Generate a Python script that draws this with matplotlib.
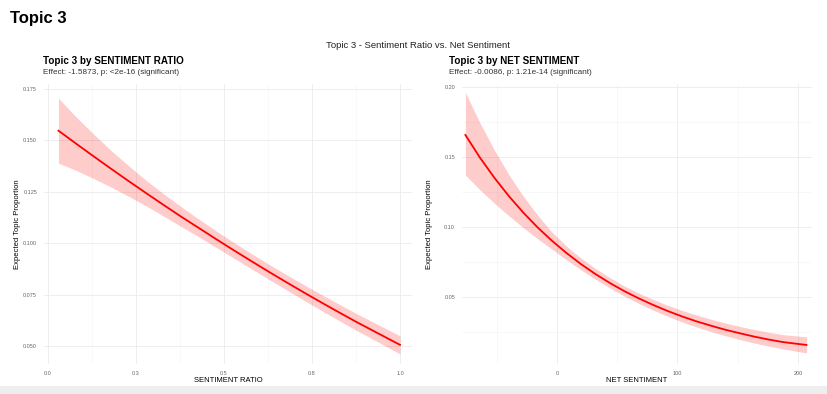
import matplotlib.pyplot as plt
from matplotlib.patches import Rectangle

plt.rcParams['font.family'] = ['Liberation Sans', 'DejaVu Sans']

# left panel: topic proportion vs sentiment ratio
ratio_x = [0.03, 0.08, 0.13, 0.18, 0.23, 0.28, 0.33, 0.38, 0.43, 0.48, 0.53,
           0.58, 0.63, 0.68, 0.73, 0.78, 0.83, 0.88, 0.93, 1.0]
ratio_fit = [0.1547, 0.1484, 0.1422, 0.1361, 0.1301, 0.1242, 0.1184, 0.1127, 0.1072,
             0.1017, 0.0963, 0.0910, 0.0858, 0.0807, 0.0757, 0.0708, 0.0660, 0.0613,
             0.0568, 0.0505]
ratio_lo = [0.1389, 0.1354, 0.1314, 0.1272, 0.1227, 0.1180, 0.1130, 0.1079, 0.1029,
            0.0977, 0.0925, 0.0873, 0.0821, 0.0770, 0.0719, 0.0669, 0.0620, 0.0572,
            0.0526, 0.0461]
ratio_hi = [0.1705, 0.1614, 0.1530, 0.1450, 0.1375, 0.1304, 0.1238, 0.1175, 0.1115,
            0.1057, 0.1001, 0.0947, 0.0895, 0.0844, 0.0795, 0.0747, 0.0700, 0.0654,
            0.0610, 0.0549]
ratio_ticks = [0.0, 0.25, 0.5, 0.75, 1.0]
ratio_ticklabels = ['0.0', '0.3', '0.5', '0.8', '1.0']
ratio_yticks = [0.050, 0.075, 0.100, 0.125, 0.150, 0.175]

# right panel: topic proportion vs net sentiment
net_x = [-76, -64, -52, -40, -28, -16, -4, 8, 20, 32, 44, 56, 68, 80, 92, 104,
         116, 128, 140, 152, 164, 176, 188, 207]
net_fit = [0.1657, 0.1496, 0.1352, 0.1221, 0.1103, 0.0996, 0.0900, 0.0813, 0.0734,
           0.0663, 0.0599, 0.0541, 0.0489, 0.0442, 0.0399, 0.0360, 0.0325, 0.0294,
           0.0265, 0.0240, 0.0216, 0.0195, 0.0177, 0.0157]
net_lo = [0.1370, 0.1266, 0.1170, 0.1080, 0.0995, 0.0915, 0.0840, 0.0765, 0.0693,
          0.0626, 0.0564, 0.0506, 0.0453, 0.0405, 0.0361, 0.0321, 0.0285, 0.0252,
          0.0222, 0.0195, 0.0170, 0.0148, 0.0128, 0.0100]
net_hi = [0.1960, 0.1745, 0.1550, 0.1375, 0.1220, 0.1083, 0.0962, 0.0862, 0.0777,
          0.0703, 0.0637, 0.0578, 0.0527, 0.0481, 0.0440, 0.0403, 0.0370, 0.0340,
          0.0313, 0.0289, 0.0267, 0.0247, 0.0230, 0.0215]
net_ticks = [0, 100, 200]
net_yticks = [0.05, 0.10, 0.15, 0.20]

W, H = 828, 394
fig = plt.figure(figsize=(W / 100, H / 100), dpi=100, facecolor='white')


def px_axes(x0, y0, x1, y1):
    return fig.add_axes([x0 / W, 1 - y1 / H, (x1 - x0) / W, (y1 - y0) / H])


def style(ax):
    ax.set_facecolor('white')
    for s in ax.spines.values():
        s.set_visible(False)
    ax.grid(True, which='major', color='#ebebeb', lw=0.6)
    ax.grid(True, which='minor', color='#f4f4f4', lw=0.4)
    ax.tick_params(which='both', length=0, labelsize=4.0, labelcolor='#666666', pad=5)
    ax.set_axisbelow(True)


ax1 = px_axes(44, 84, 412, 364)
style(ax1)
ax1.fill_between(ratio_x, ratio_lo, ratio_hi, color='red', alpha=0.2, lw=0)
ax1.plot(ratio_x, ratio_fit, color='red', lw=1.3)
ax1.set_xlim(-0.011, 1.034)
ax1.set_ylim(0.0412, 0.1774)
ax1.set_xticks(ratio_ticks)
ax1.set_xticklabels(ratio_ticklabels)
ax1.set_xticks([0.125, 0.375, 0.625, 0.875], minor=True)
ax1.set_yticks(ratio_yticks)
ax1.set_yticklabels(['%.3f' % v for v in ratio_yticks])
ax1.set_xlabel('SENTIMENT RATIO', fontsize=5.5, labelpad=1)
ax1.set_ylabel('Expected Topic Proportion', fontsize=5.5)
ax1.yaxis.set_label_coords((21 - 44) / 368, 0.5)

ax2 = px_axes(462, 84, 812, 364)
style(ax2)
ax2.fill_between(net_x, net_lo, net_hi, color='red', alpha=0.2, lw=0)
ax2.plot(net_x, net_fit, color='red', lw=1.3)
ax2.set_xlim(-78.8, 211.6)
ax2.set_ylim(0.0021, 0.2021)
ax2.set_xticks(net_ticks)
ax2.set_xticks([-50, 50, 150], minor=True)
ax2.set_yticks(net_yticks)
ax2.set_yticklabels(['%.2f' % v for v in net_yticks])
ax2.set_yticks([0.025, 0.075, 0.125, 0.175], minor=True)
ax2.set_xlabel('NET SENTIMENT', fontsize=5.5, labelpad=1)
ax2.set_ylabel('Expected Topic Proportion', fontsize=5.5)
ax2.yaxis.set_label_coords((433 - 462) / 350, 0.5)

# titles
fig.text(10 / W, 1 - 18 / H, 'Topic 3', fontsize=12, fontweight='bold', va='center', ha='left')
fig.text(418 / W, 1 - 46 / H, 'Topic 3 - Sentiment Ratio vs. Net Sentiment',
         fontsize=6.8, va='center', ha='center', color='#222222')
fig.text(43 / W, 1 - 61 / H, 'Topic 3 by SENTIMENT RATIO', fontsize=7.1,
         fontweight='bold', va='center', ha='left')
fig.text(43 / W, 1 - 73 / H, 'Effect: -1.5873, p: <2e-16 (significant)', fontsize=5.9,
         va='center', ha='left', color='#333333')
fig.text(449 / W, 1 - 61 / H, 'Topic 3 by NET SENTIMENT', fontsize=7.1,
         fontweight='bold', va='center', ha='left')
fig.text(449 / W, 1 - 73 / H, 'Effect: -0.0086, p: 1.21e-14 (significant)', fontsize=5.9,
         va='center', ha='left', color='#333333')

# light band at the bottom edge
fig.patches.append(Rectangle((0, 0), 1, 8 / H, transform=fig.transFigure,
                             facecolor='#eeeeee', edgecolor='none'))

fig.savefig('out.png', dpi=100, facecolor='white')
